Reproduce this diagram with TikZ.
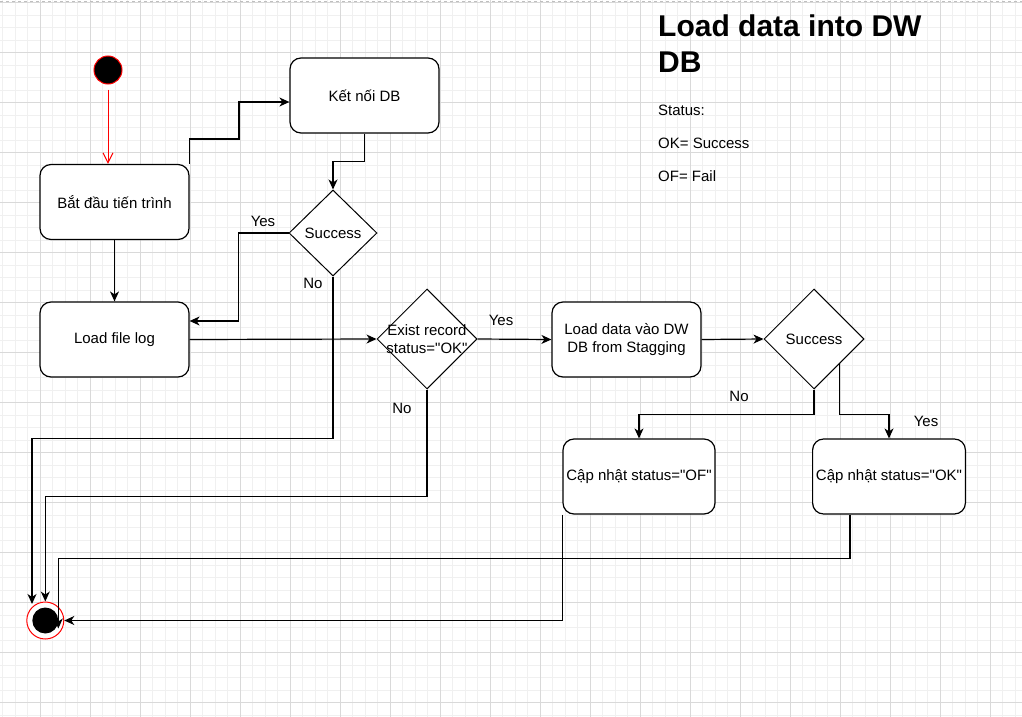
\documentclass[tikz,border=0pt]{standalone}
\usepackage{fontspec}
\setmainfont{Liberation Sans}[Ligatures=TeXOff]
\usetikzlibrary{arrows.meta,shapes.geometric}

\begin{document}
\begin{tikzpicture}[x=1pt,y=-1pt,
  caja/.style={draw,rounded corners=11pt,line width=1.2pt,fill=white,minimum width=149pt,minimum height=75pt,align=center,font=\fontsize{15}{18}\selectfont},
  rombo/.style={draw,diamond,line width=1pt,fill=white,minimum width=100pt,minimum height=100pt,inner sep=0pt},
  texto/.style={font=\fontsize{15}{18}\selectfont,align=center,inner sep=0pt},
  flecha/.style={line width=1.2pt,-{Stealth[length=10pt,width=9pt,inset=3pt]}}]
    \useasboundingbox (0,0) rectangle (1022,717);
    \foreach \x in {2.5,15,...,1022} \draw[gray!12,line width=0.8pt] (\x,0) -- (\x,717);
    \foreach \y in {2.5,15,...,717} \draw[gray!12,line width=0.8pt] (0,\y) -- (1022,\y);
    \foreach \x in {40,90,...,1022} \draw[gray!30,line width=0.8pt] (\x,0) -- (\x,717);
    \foreach \y in {2.5,52.5,...,717} \draw[gray!30,line width=0.8pt] (0,\y) -- (1022,\y);
    \draw[gray!50,dashed] (0,1.5) -- (1022,1.5);

    \node[circle,fill=black,draw=red,line width=1pt,minimum size=28pt,inner sep=0pt] (nodo1) at (108,70) {};
    \node[caja] (nodo2) at (114.5,202) {Bắt đầu tiến trình};
    \node[caja] (nodo3) at (364.5,95.5) {Kết nối DB};
    \node[rombo,minimum width=88pt,minimum height=86pt,label={[texto]center:Success}] (nodo4) at (333,233) {};
    \node[caja] (nodo5) at (114.5,339.5) {Load file log};
    \node[rombo,label={[texto]center:{Exist record\\status="OK"}}] (nodo6) at (427,339) {};
    \node[caja] (nodo7) at (626.5,339.5) {Load data vào DW\\DB from Stagging};
    \node[rombo,label={[texto]center:Success}] (nodo8) at (814,339) {};
    \node[caja,minimum width=150pt] (nodo9) at (639,476.5) {Cập nhật status="OF"};
    \node[caja,minimum width=150pt] (nodo10) at (889,476.5) {Cập nhật status="OK"};
    \node[circle,fill=white,draw=red,line width=1pt,minimum size=37pt,inner sep=0pt,
      path picture={\fill[black] (path picture bounding box.center) circle (13pt);}] (nodo11) at (45.3,620.5) {};

    \node[texto] (si1) at (263,221) {Yes};
    \node[texto] (no1) at (313,283) {No};
    \node[texto] (si2) at (501,320) {Yes};
    \node[texto] (no2) at (402,408) {No};
    \node[texto] (no3) at (739,396) {No};
    \node[texto] (si3) at (926,421) {Yes};

    \node[anchor=base west,align=left,inner sep=0pt,font=\fontsize{30}{36}\selectfont\bfseries] (titulo) at (658,72.7) {Load data into DW\\DB};
    \node[anchor=base west,align=left,inner sep=0pt,font=\fontsize{15}{33}\selectfont] (estado) at (658,181) {Status:\\OK= Success\\OF= Fail};

    \draw[red,line width=1pt,-{Straight Barb[length=10pt,width=10pt]}] ([yshift=-5pt]nodo1.south) -- (nodo1.south |- nodo2.north);
    \draw[flecha] (nodo2.north east) |- (239,139) |- ([yshift=-6.5pt]nodo3.west);
    \draw[flecha] (nodo3.south) -- ++(0,28) -| (nodo4.north);
    \draw[flecha] (nodo4.west) -- ++(-50,0) |- ([yshift=18.5pt]nodo5.east);
    \draw[flecha] (nodo4.south) -- ++(0,162) -| ([xshift=-13.3pt,yshift=16.5pt]nodo11.center);
    \draw[flecha] (nodo2.south) -- (nodo5.north);
    \draw[flecha] (nodo5.east) -- (nodo6.west);
    \draw[flecha] (nodo6.east) -- (nodo7.west);
    \draw[flecha] (nodo6.south) -- ++(0,107) -| (nodo11.north);
    \draw[flecha] (nodo7.east) -- (nodo8.west);
    \draw[flecha] (nodo8.south) -- ++(0,25) -| (nodo9.north);
    \draw[flecha] (nodo8.south east) -- ++(0,50) -| (nodo10.north);
    \draw[flecha] (nodo9.south west) |- (nodo11.east);
    \draw[flecha] ([xshift=38pt]nodo10.south west) -- ++(0,44) -| ([xshift=13pt,yshift=-8pt]nodo11.center);
\end{tikzpicture}
\end{document}
